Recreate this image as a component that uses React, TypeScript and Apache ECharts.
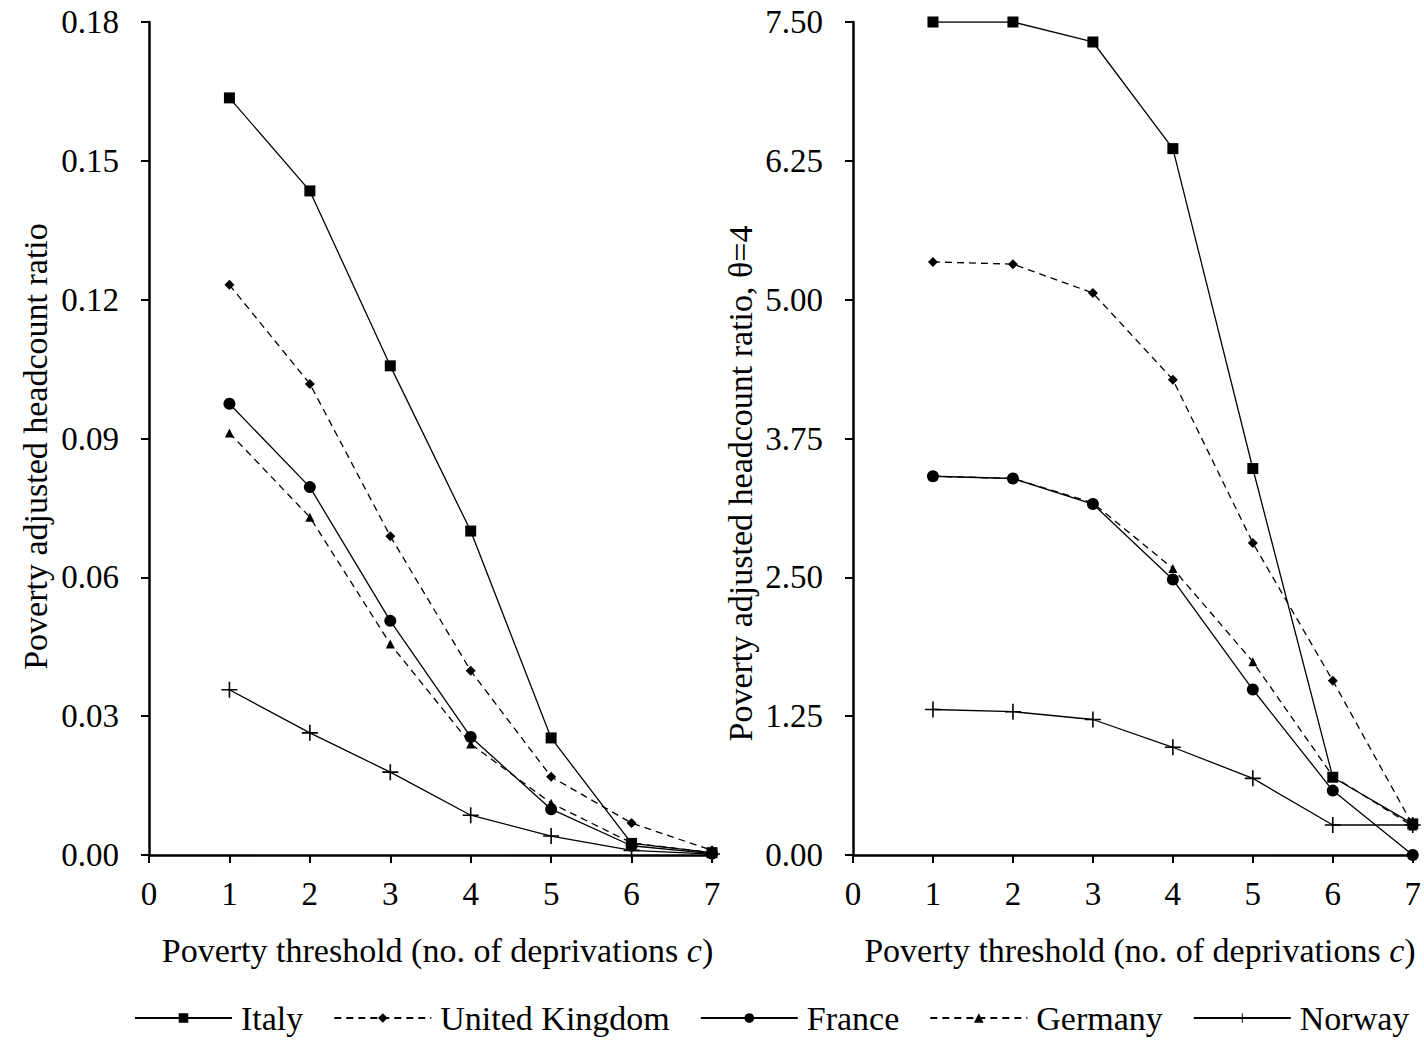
import React, { useEffect, useRef } from "react";
import * as echarts from "echarts";

const thresholds = [1, 2, 3, 4, 5, 6, 7];
const countries = ["Italy", "United Kingdom", "France", "Germany", "Norway"];

// Left panel: poverty adjusted headcount ratio
const leftItaly = [0.1636, 0.1435, 0.1057, 0.070, 0.0253, 0.0025, 0.0005];
const leftUK = [0.1232, 0.1018, 0.0689, 0.0398, 0.0169, 0.0069, 0.001];
const leftFrance = [0.0975, 0.0795, 0.0506, 0.0255, 0.0099, 0.002, 0.0003];
const leftGermany = [0.0912, 0.073, 0.0456, 0.024, 0.0112, 0.0026, 0.0005];
const leftNorway = [0.0357, 0.0264, 0.0179, 0.0086, 0.0041, 0.001, 0.0002];

// Right panel: poverty adjusted headcount ratio, theta=4
const rightItaly = [7.5, 7.5, 7.32, 6.36, 3.48, 0.7, 0.28];
const rightUK = [5.34, 5.32, 5.06, 4.28, 2.81, 1.57, 0.27];
const rightFrance = [3.41, 3.39, 3.16, 2.48, 1.49, 0.58, 0.0];
const rightGermany = [3.41, 3.39, 3.17, 2.58, 1.74, 0.71, 0.26];
const rightNorway = [1.31, 1.29, 1.22, 0.97, 0.69, 0.27, 0.27];

const leftTicks = { min: 0, max: 0.18, interval: 0.03 };
const rightTicks = { min: 0, max: 7.5, interval: 1.25 };

const PLUS = "path://M5.4,0H6.6V5.4H12V6.6H6.6V12H5.4V6.6H0V5.4H5.4Z";

const styles = [
  { symbol: "rect", size: 11, type: "solid" },
  { symbol: "diamond", size: 10, type: "dashed" },
  { symbol: "circle", size: 12, type: "solid" },
  { symbol: "triangle", size: 9, type: "dashed" },
  { symbol: PLUS, size: 16, type: "solid" },
];

const FONT = "'Liberation Serif', 'DejaVu Serif', serif";
const FS = 34;

export default function App() {
  const ref = useRef<HTMLDivElement>(null);
  useEffect(() => {
    document.body.style.margin = "0";
    const chart = echarts.init(ref.current!, undefined, { renderer: "svg" });
    const leftData = [leftItaly, leftUK, leftFrance, leftGermany, leftNorway];
    const rightData = [rightItaly, rightUK, rightFrance, rightGermany, rightNorway];

    const mkSeries = (arrs: number[][], idx: number) =>
      arrs.map((arr, i) => ({
        name: countries[i],
        type: "line",
        xAxisIndex: idx,
        yAxisIndex: idx,
        data: arr.map((v, k) => [thresholds[k], v]),
        symbol: styles[i].symbol,
        symbolSize: styles[i].size,
        showAllSymbol: true,
        lineStyle: { color: "#000", width: 1.3, type: styles[i].type === "dashed" ? [7, 5] : "solid" },
        itemStyle: { color: "#000", borderWidth: 0 },
        z: 3,
      }));

    const xAxisCommon = {
      type: "value",
      min: 0,
      max: 7,
      interval: 1,
      nameLocation: "middle",
      nameGap: 78,
      name: "Poverty threshold (no. of deprivations {i|c})",
      nameTextStyle: {
        fontFamily: FONT,
        fontSize: FS,
        color: "#000",
        padding: [0, 0, 0, 14],
        rich: { i: { fontFamily: FONT, fontSize: FS, fontStyle: "italic", color: "#000" } },
      },
      axisLine: { show: true, onZero: false, lineStyle: { color: "#000", width: 2.5 } },
      axisTick: { show: true, length: 8, inside: false, lineStyle: { color: "#000", width: 2 } },
      axisLabel: { margin: 22, fontFamily: FONT, fontSize: 33, color: "#000" },
      splitLine: { show: false },
    };

    const yAxisCommon = {
      type: "value",
      nameLocation: "middle",
      axisLine: { show: true, lineStyle: { color: "#000", width: 2.5 } },
      axisTick: { show: true, length: 8, inside: false, lineStyle: { color: "#000", width: 2 } },
      axisLabel: {
        margin: 30,
        fontFamily: FONT,
        fontSize: 33,
        color: "#000",
        formatter: (v: number) => v.toFixed(2),
      },
      splitLine: { show: false },
    };

    chart.setOption({
      animation: false,
      backgroundColor: "#fff",
      grid: [
        { left: 149, right: 1424 - 712, top: 22, bottom: 1040 - 855 },
        { left: 853, right: 1424 - 1417, top: 22, bottom: 1040 - 855 },
      ],
      xAxis: [
        { ...xAxisCommon, gridIndex: 0 },
        { ...xAxisCommon, gridIndex: 1 },
      ],
      yAxis: [
        {
          ...yAxisCommon,
          gridIndex: 0,
          ...leftTicks,
          name: "Poverty adjusted headcount ratio",
          nameGap: 97,
          nameTextStyle: { fontFamily: FONT, fontSize: FS, color: "#000", padding: [0, 16, 0, 0] },
        },
        {
          ...yAxisCommon,
          gridIndex: 1,
          ...rightTicks,
          name: "Poverty adjusted headcount ratio, θ=4",
          nameGap: 96,
          nameTextStyle: { fontFamily: FONT, fontSize: FS, color: "#000", padding: [0, 90, 0, 0] },
        },
      ],
      legend: {
        bottom: 0,
        left: 129,
        itemWidth: 97,
        itemHeight: 12,
        itemGap: 30,
        textStyle: { fontFamily: FONT, fontSize: FS, color: "#000", padding: [0, 0, 0, 4] },
        data: countries,
      },
      series: [...mkSeries(leftData, 0), ...mkSeries(rightData, 1)],
    });
    return () => chart.dispose();
  }, []);
  return <div ref={ref} style={{ width: 1424, height: 1040 }} />;
}
